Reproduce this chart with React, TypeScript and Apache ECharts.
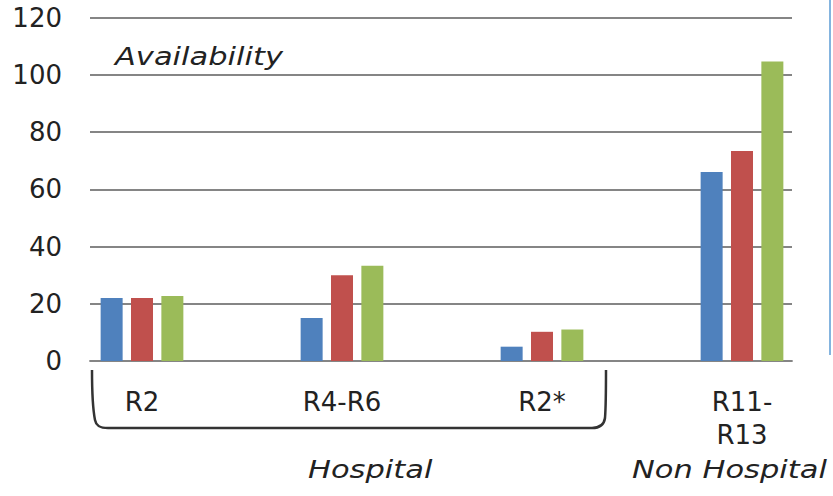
import React, { useEffect, useRef } from 'react';
import * as echarts from 'echarts';

const categories = ['R2', 'R4-R6', 'R2*', 'R11-\nR13'];
const seriesBlue = [22, 15, 5, 66];
const seriesRed = [22, 30, 10.2, 73.4];
const seriesGreen = [22.7, 33.3, 11, 104.6];
const yMin = 0;
const yMax = 120;
const yInterval = 20;
const titleText = 'Availability';
const groupLabels = ['Hospital', 'Non Hospital'];

const bracePath =
  'M92,370 C92,395 93,410 95,420 C96,426 100,428 108,428 L592,428 C600,428 604,425 605,418 C606,405 606,390 606,370';
echarts.graphic.registerShape('brace', echarts.graphic.extendPath(bracePath, {}));

const FONT = 'DejaVu Sans';

export default function App() {
  const ref = useRef<HTMLDivElement>(null);
  useEffect(() => {
    if (!ref.current) return;
    const chart = echarts.init(ref.current, null, { renderer: 'svg' });
    const gridColor = '#858585';
    const italicStyle = (text: string) => ({
      text,
      fill: '#222',
      font: `italic normal 25px "${FONT}"`,
      verticalAlign: 'middle',
      align: 'left',
    });
    chart.setOption({
      animation: false,
      backgroundColor: '#ffffff',
      grid: [
        { left: 90, width: 702, top: 17.5, bottom: 135 },
        { left: 42, width: 800, top: 17.5, bottom: 135 },
      ],
      xAxis: [
        {
          gridIndex: 0,
          type: 'category',
          data: categories,
          axisLine: { show: true, lineStyle: { color: gridColor, width: 1.8 } },
          axisTick: { show: false },
          axisLabel: { show: false },
        },
        {
          gridIndex: 1,
          type: 'category',
          data: categories,
          axisLine: { show: false },
          axisTick: { show: false },
          axisLabel: {
            interval: 0,
            margin: 24,
            fontSize: 26,
            lineHeight: 33,
            fontFamily: FONT,
            fontWeight: 'normal',
            color: '#222',
          },
        },
      ],
      yAxis: [
        {
          gridIndex: 0,
          type: 'value',
          min: yMin,
          max: yMax,
          interval: yInterval,
          axisLine: { show: false },
          axisTick: { show: false },
          axisLabel: {
            margin: 28,
            fontSize: 26,
            fontFamily: FONT,
            fontWeight: 'normal',
            color: '#222',
          },
          splitLine: { lineStyle: { color: gridColor, width: 1.8 } },
        },
        {
          gridIndex: 1,
          type: 'value',
          min: yMin,
          max: yMax,
          interval: yInterval,
          show: false,
        },
      ],
      series: [
        { type: 'bar', xAxisIndex: 1, yAxisIndex: 1, data: seriesBlue, barWidth: 22, barGap: '38%', itemStyle: { color: '#4f81bd' } },
        { type: 'bar', xAxisIndex: 1, yAxisIndex: 1, data: seriesRed, barWidth: 22, barGap: '38%', itemStyle: { color: '#c0504d' } },
        { type: 'bar', xAxisIndex: 1, yAxisIndex: 1, data: seriesGreen, barWidth: 22, barGap: '38%', itemStyle: { color: '#9bbb59' } },
      ],
      graphic: [
        { type: 'text', x: 115, y: 56, scaleX: 1.22, style: italicStyle(titleText) },
        { type: 'text', x: 308, y: 469, scaleX: 1.22, style: italicStyle(groupLabels[0]) },
        { type: 'text', x: 632, y: 469, scaleX: 1.22, style: italicStyle(groupLabels[1]) },
        {
          type: 'brace',
          x: 0,
          y: 0,
          style: { fill: 'none', stroke: '#333', lineWidth: 2.5 },
        },
        {
          type: 'line',
          shape: { x1: 830, y1: 0, x2: 830, y2: 355 },
          style: { stroke: '#5b9bd5', lineWidth: 1.5 },
        },
      ],
    });
    return () => chart.dispose();
  }, []);
  return (
    <div
      ref={ref}
      style={{ position: 'fixed', left: 0, top: 0, width: 850, height: 496, background: '#fff' }}
    />
  );
}
